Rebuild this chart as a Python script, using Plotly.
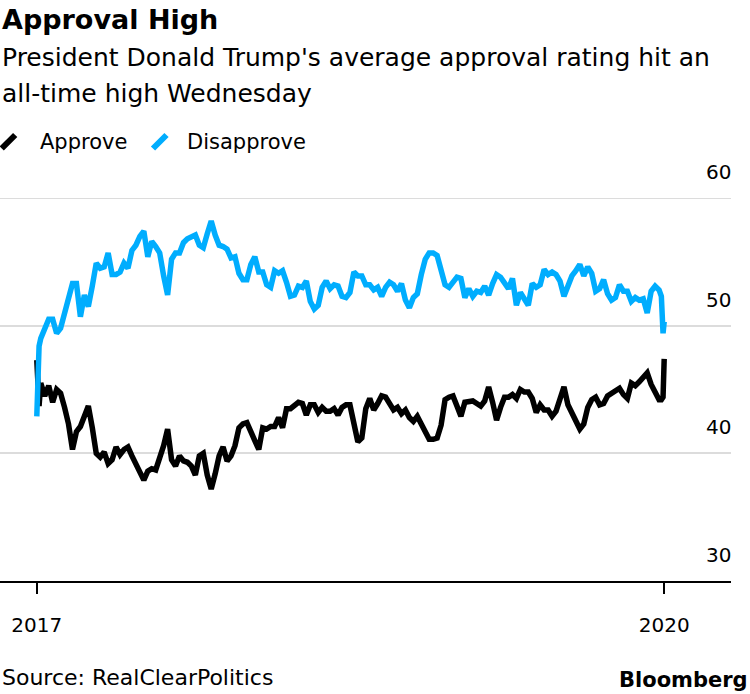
import pandas as pd
import plotly.graph_objects as go

# ---------------- data ----------------
head_dates = ["2017-01-23", "2017-01-27"]
weekly_dates = [d.strftime("%Y-%m-%d") for d in pd.date_range("2017-01-30", periods=157, freq="7D")]
tail_dates = ["2020-01-31", "2020-02-03", "2020-02-05"]
dates = head_dates + weekly_dates + tail_dates

approve = [47.3, 43.7,
    45.5, 44.5, 45.3, 44.0, 45.0, 44.7, 43.6, 42.3, 40.3, 41.7,
    42.1, 42.9, 43.7, 42.0, 40.0, 39.7, 40.1, 39.2, 39.5, 40.5,
    39.9, 40.3, 40.5, 39.8, 39.2, 38.5, 37.9, 38.6, 38.8, 38.7,
    39.6, 40.6, 41.9, 39.5, 39.0, 39.8, 39.4, 39.3, 39.0, 38.3,
    39.8, 40.0, 38.3, 37.2, 38.4, 39.8, 40.5, 39.4, 39.8, 40.6,
    42.0, 42.3, 42.4, 41.6, 41.0, 40.3, 42.0, 41.9, 42.1, 42.1,
    42.8, 42.0, 43.5, 43.5, 43.7, 44.0, 43.9, 43.0, 43.8, 43.8,
    43.2, 43.6, 43.3, 43.3, 43.5, 43.0, 43.6, 43.8, 43.8, 42.5,
    40.9, 41.2, 43.5, 44.3, 43.4, 43.9, 44.5, 44.4, 43.8, 43.4,
    43.6, 43.1, 43.4, 42.8, 42.5, 42.9, 42.3, 41.6, 41.1, 41.1,
    41.2, 42.2, 44.2, 44.4, 44.5, 43.7, 42.9, 44.0, 44.0, 44.1,
    43.9, 43.7, 44.1, 45.2, 44.0, 42.6, 43.6, 44.4, 44.4, 44.6,
    44.3, 45.0, 44.8, 44.8, 44.3, 43.2, 43.8, 43.4, 43.4, 42.9,
    43.3, 44.3, 45.2, 43.8, 43.1, 42.5, 41.9, 42.3, 43.6, 44.2,
    44.4, 43.8, 43.9, 44.5, 44.7, 44.9, 45.1, 44.6, 44.3, 45.5,
    45.3, 45.6, 45.9, 46.3, 45.4, 44.7, 44.2,
    44.2, 44.4, 47.4]

disapprove = [42.9, 48.4,
    49.0, 49.9, 50.5, 50.5, 49.4, 49.8, 50.9, 52.3, 53.3, 53.3,
    50.7, 52.4, 51.5, 53.1, 54.9, 54.5, 54.6, 55.7, 54.0, 54.0,
    54.2, 54.9, 54.5, 55.9, 56.3, 57.0, 57.4, 55.4, 56.6, 56.2,
    55.7, 53.9, 52.4, 55.2, 55.7, 55.7, 56.5, 56.8, 57.0, 57.1,
    56.3, 56.1, 57.2, 58.2, 57.1, 56.3, 56.2, 56.0, 55.3, 55.4,
    54.1, 53.6, 53.6, 54.8, 55.4, 54.2, 54.2, 53.2, 53.0, 54.3,
    54.1, 54.3, 53.4, 52.3, 52.4, 53.1, 53.0, 53.5, 51.9, 51.3,
    51.6, 53.0, 53.5, 52.9, 53.2, 53.1, 52.3, 52.2, 52.6, 54.2,
    53.9, 53.9, 53.2, 53.2, 52.8, 53.0, 52.3, 53.0, 53.4, 53.2,
    52.7, 53.3, 52.0, 51.4, 52.2, 52.5, 54.0, 55.2, 55.7, 55.7,
    55.5, 54.5, 53.2, 53.0, 53.4, 53.8, 53.7, 52.2, 52.9, 52.3,
    52.7, 52.6, 53.1, 52.4, 53.3, 54.0, 53.8, 53.3, 52.9, 53.7,
    51.6, 52.6, 52.0, 51.6, 53.3, 53.0, 53.2, 54.4, 54.0, 54.2,
    54.0, 53.5, 52.3, 53.1, 53.9, 54.3, 54.8, 53.9, 54.6, 54.1,
    52.7, 52.9, 53.6, 52.5, 52.0, 52.2, 53.2, 52.7, 52.7, 51.9,
    52.2, 52.0, 52.1, 51.0, 52.7, 53.1, 52.8,
    52.3, 49.4, 50.3]

series_names = ["Approve", "Disapprove"]
y_ticks = [30, 40, 50, 60]
x_tick_labels = ["2017", "2020"]
title = "Approval High"
subtitle_lines = ["President Donald Trump's average approval rating hit an",
                  "all-time high Wednesday"]
source = "Source: RealClearPolitics"

# ---------------- styling / layout ----------------
W, H = 750, 694
L, R, T, B = 0, 19, 198, 113
PW, PH = W - L - R, H - T - B
FONT = "DejaVu Sans"
BLACK = "#000000"
BLUE = "#00adfe"
GRID = "#dcdcdc"


def px(x):
    return (x - L) / PW


def py(y):
    return (H - B - y) / PH


fig = go.Figure()
fig.add_trace(go.Scatter(x=dates, y=approve, mode="lines", name=series_names[0],
                         line=dict(color=BLACK, width=5.5), showlegend=False,
                         hoverinfo="x+y"))
fig.add_trace(go.Scatter(x=dates, y=disapprove, mode="lines", name=series_names[1],
                         line=dict(color=BLUE, width=5.5), showlegend=False,
                         hoverinfo="x+y"))

annotations = []
annotations.append(dict(text="<b>" + title + "</b>", x=px(0), y=py(19), xref="paper", yref="paper",
                        xanchor="left", yanchor="middle", showarrow=False,
                        font=dict(family=FONT, size=27, color=BLACK)))
for i, (line, yc) in enumerate(zip(subtitle_lines, [58, 93])):
    annotations.append(dict(text=line, x=px(0), y=py(yc), xref="paper", yref="paper",
                            xanchor="left", yanchor="middle", showarrow=False,
                            font=dict(family=FONT, size=25, color=BLACK)))
# legend
leg = [(series_names[0], BLACK, 1.7, 38), (series_names[1], BLUE, 153, 185)]
shapes = []
for name, col, sx, tx in leg:
    shapes.append(dict(type="line", xref="paper", yref="paper",
                       x0=px(sx), y0=py(148.5), x1=px(sx + 13.5), y1=py(135),
                       line=dict(color=col, width=6)))
    annotations.append(dict(text=name, x=px(tx), y=py(142), xref="paper", yref="paper",
                            xanchor="left", yanchor="middle", showarrow=False,
                            font=dict(family=FONT, size=21, color=BLACK)))
# top gridline (at the plot edge, not drawn by the axis grid)
shapes.append(dict(type="line", xref="paper", yref="y", x0=0, x1=1, y0=60, y1=60,
                   line=dict(color=GRID, width=2), layer="below"))
# y labels above gridlines
for v in y_ticks:
    annotations.append(dict(text=str(v), x=1, y=v, xref="paper", yref="y",
                            xanchor="right", yanchor="middle", xshift=2, yshift=26,
                            showarrow=False, font=dict(family=FONT, size=20, color=BLACK)))
annotations.append(dict(text=source, x=px(0), y=py(677), xref="paper", yref="paper",
                        xanchor="left", yanchor="middle", showarrow=False,
                        font=dict(family=FONT, size=22, color=BLACK)))
annotations.append(dict(text="<b>Bloomberg</b>", x=px(750), y=py(680), xref="paper", yref="paper",
                        xanchor="right", yanchor="middle", showarrow=False,
                        font=dict(family=FONT, size=21, color=BLACK)))

fig.update_layout(
    width=W, height=H,
    margin=dict(l=L, r=R, t=T, b=B, pad=0),
    paper_bgcolor="white", plot_bgcolor="white",
    font=dict(family=FONT, color=BLACK),
    annotations=annotations, shapes=shapes,
    showlegend=False,
    xaxis=dict(type="date", range=["2016-11-19", "2020-06-02"],
               tickmode="array", tickvals=[dates[0], dates[-1]], ticktext=x_tick_labels,
               ticks="outside", ticklen=11, tickwidth=2, tickcolor=BLACK,
               showline=True, linecolor=BLACK, linewidth=2,
               showgrid=False, zeroline=False, ticklabelstandoff=14,
               tickfont=dict(family=FONT, size=20, color=BLACK), fixedrange=True),
    yaxis=dict(range=[30, 60], side="right", tickmode="array", tickvals=y_ticks,
               showticklabels=False, ticks="", showgrid=True, gridcolor=GRID,
               gridwidth=2, zeroline=False, showline=False, fixedrange=True),
)

fig.write_html("out.html", config={"displayModeBar": False},
               post_script="document.body.style.margin='0';document.body.style.overflow='hidden';")
